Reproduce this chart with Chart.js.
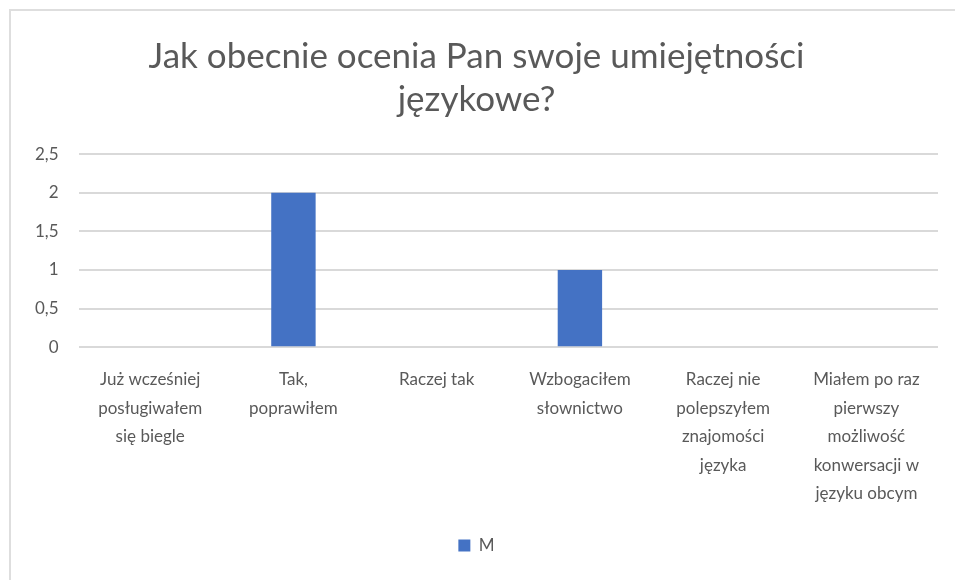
<!DOCTYPE html>
<html>
<head>
<meta charset="utf-8">
<script src="https://cdn.jsdelivr.net/npm/chart.js"></script>
<style>
  html, body { margin: 0; padding: 0; background: #fff; }
  #wrap { position: relative; width: 955px; height: 580px; }
  #frame { position: absolute; left: 9px; top: 9px; right: 0; bottom: 0;
           border-top: 2px solid #dedede; border-left: 2px solid #dedede; }
  canvas { position: absolute; left: 0; top: 0; }
</style>
</head>
<body>
<div id="wrap">
  <div id="frame"></div>
  <canvas id="barchart" width="955" height="580"></canvas>
</div>
<script>
let labelBar = [
  ['Już wcześniej', 'posługiwałem', 'się biegle'],
  ['Tak,', 'poprawiłem'],
  ['Raczej tak'],
  ['Wzbogaciłem', 'słownictwo'],
  ['Raczej nie', 'polepszyłem', 'znajomości', 'języka'],
  ['Miałem po raz', 'pierwszy', 'możliwość', 'konwersacji w', 'języku obcym']
]
let dataM = [0, 2, 0, 1, 0, 0]
let seriesName = 'M'
let titleLines = ['Jak obecnie ocenia Pan swoje umiejętności', 'językowe?']

let ctx = document.querySelector('#barchart').getContext('2d')

let chart = new Chart(ctx, {
  type: 'bar',
  data: {
    labels: labelBar,
    datasets: [{
      label: seriesName,
      data: dataM,
      backgroundColor: '#4472C4',
      barPercentage: 0.31,
      categoryPercentage: 1
    }]
  },
  options: {
    responsive: false,
    animation: false,
    layout: { padding: { left: 15, right: 17, top: 0, bottom: 16 } },
    plugins: {
      title: {
        display: true,
        text: titleLines,
        color: '#595959',
        font: { family: 'Lato', size: 35, weight: 'normal', lineHeight: 1.23 },
        padding: { top: 35, bottom: 33 }
      },
      legend: {
        display: true,
        position: 'bottom',
        labels: {
          color: '#595959',
          font: { family: 'Lato', size: 17 },
          boxWidth: 12,
          boxHeight: 12,
          padding: 19
        }
      },
      tooltip: { enabled: false }
    },
    scales: {
      x: {
        grid: { display: false },
        border: { display: false },
        ticks: {
          color: '#595959',
          font: { family: 'Lato', size: 17, lineHeight: 1.68 },
          maxRotation: 0,
          autoSkip: false,
          padding: 10
        }
      },
      y: {
        min: 0,
        max: 2.5,
        ticks: {
          stepSize: 0.5,
          color: '#595959',
          font: { family: 'Lato', size: 17 },
          padding: 20,
          callback: v => v.toString().replace('.', ',')
        },
        grid: { color: '#d9d9d9', lineWidth: 2, drawTicks: false },
        border: { display: false }
      }
    }
  }
})
</script>
</body>
</html>
